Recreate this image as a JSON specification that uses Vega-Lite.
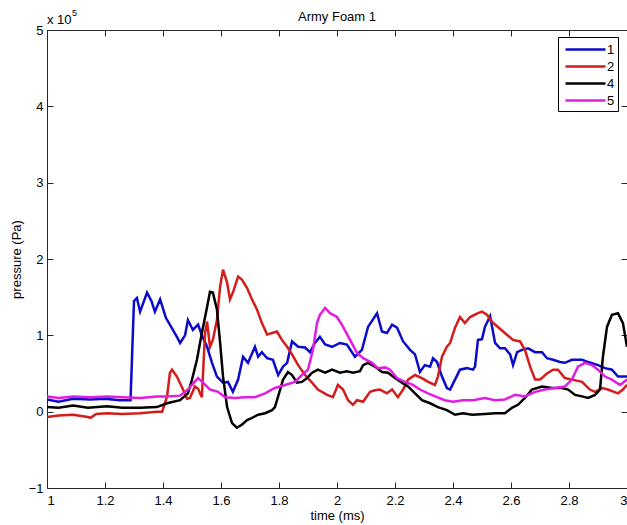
{
  "$schema": "https://vega.github.io/schema/vega-lite/v6.json",
  "width": 580,
  "height": 458,
  "autosize": {"type": "none"},
  "padding": {"left": 47, "top": 30, "right": 0, "bottom": 37},
  "config": {
    "font": "Liberation Sans",
    "view": {"stroke": null},
    "axis": {
      "domainColor": "#262626",
      "tickColor": "#262626",
      "labelColor": "#000",
      "titleColor": "#000",
      "labelFontSize": 13,
      "titleFontSize": 13,
      "titleFontWeight": "normal",
      "grid": false
    }
  },
  "data": {"values": [
    {"t":1.000,"p":0.16,"s":"1"},{"t":1.040,"p":0.13,"s":"1"},{"t":1.090,"p":0.17,"s":"1"},{"t":1.150,"p":0.16,"s":"1"},{"t":1.200,"p":0.17,"s":"1"},{"t":1.250,"p":0.15,"s":"1"},{"t":1.288,"p":0.15,"s":"1"},{"t":1.300,"p":1.45,"s":"1"},{"t":1.310,"p":1.49,"s":"1"},{"t":1.321,"p":1.31,"s":"1"},{"t":1.345,"p":1.56,"s":"1"},{"t":1.360,"p":1.45,"s":"1"},{"t":1.372,"p":1.31,"s":"1"},{"t":1.390,"p":1.47,"s":"1"},{"t":1.410,"p":1.23,"s":"1"},{"t":1.448,"p":0.98,"s":"1"},{"t":1.459,"p":0.90,"s":"1"},{"t":1.476,"p":1.00,"s":"1"},{"t":1.486,"p":1.20,"s":"1"},{"t":1.503,"p":1.07,"s":"1"},{"t":1.521,"p":1.14,"s":"1"},{"t":1.534,"p":1.00,"s":"1"},{"t":1.552,"p":0.85,"s":"1"},{"t":1.569,"p":0.64,"s":"1"},{"t":1.586,"p":0.46,"s":"1"},{"t":1.607,"p":0.38,"s":"1"},{"t":1.624,"p":0.39,"s":"1"},{"t":1.641,"p":0.26,"s":"1"},{"t":1.659,"p":0.42,"s":"1"},{"t":1.676,"p":0.72,"s":"1"},{"t":1.693,"p":0.64,"s":"1"},{"t":1.717,"p":0.85,"s":"1"},{"t":1.728,"p":0.72,"s":"1"},{"t":1.741,"p":0.78,"s":"1"},{"t":1.759,"p":0.70,"s":"1"},{"t":1.779,"p":0.68,"s":"1"},{"t":1.797,"p":0.48,"s":"1"},{"t":1.814,"p":0.59,"s":"1"},{"t":1.828,"p":0.64,"s":"1"},{"t":1.845,"p":0.92,"s":"1"},{"t":1.866,"p":0.85,"s":"1"},{"t":1.890,"p":0.84,"s":"1"},{"t":1.907,"p":0.78,"s":"1"},{"t":1.924,"p":0.90,"s":"1"},{"t":1.941,"p":0.98,"s":"1"},{"t":1.959,"p":0.88,"s":"1"},{"t":1.983,"p":0.85,"s":"1"},{"t":2.010,"p":0.90,"s":"1"},{"t":2.034,"p":0.88,"s":"1"},{"t":2.062,"p":0.72,"s":"1"},{"t":2.086,"p":0.81,"s":"1"},{"t":2.107,"p":1.11,"s":"1"},{"t":2.138,"p":1.29,"s":"1"},{"t":2.155,"p":1.05,"s":"1"},{"t":2.172,"p":1.03,"s":"1"},{"t":2.190,"p":1.14,"s":"1"},{"t":2.207,"p":1.10,"s":"1"},{"t":2.228,"p":0.92,"s":"1"},{"t":2.252,"p":0.81,"s":"1"},{"t":2.269,"p":0.75,"s":"1"},{"t":2.286,"p":0.52,"s":"1"},{"t":2.303,"p":0.61,"s":"1"},{"t":2.321,"p":0.59,"s":"1"},{"t":2.331,"p":0.70,"s":"1"},{"t":2.345,"p":0.65,"s":"1"},{"t":2.362,"p":0.46,"s":"1"},{"t":2.379,"p":0.31,"s":"1"},{"t":2.390,"p":0.29,"s":"1"},{"t":2.407,"p":0.42,"s":"1"},{"t":2.424,"p":0.55,"s":"1"},{"t":2.448,"p":0.57,"s":"1"},{"t":2.469,"p":0.55,"s":"1"},{"t":2.476,"p":0.59,"s":"1"},{"t":2.486,"p":0.94,"s":"1"},{"t":2.500,"p":0.95,"s":"1"},{"t":2.510,"p":1.11,"s":"1"},{"t":2.528,"p":1.25,"s":"1"},{"t":2.545,"p":0.90,"s":"1"},{"t":2.562,"p":0.83,"s":"1"},{"t":2.579,"p":0.83,"s":"1"},{"t":2.597,"p":0.75,"s":"1"},{"t":2.607,"p":0.61,"s":"1"},{"t":2.621,"p":0.78,"s":"1"},{"t":2.638,"p":0.81,"s":"1"},{"t":2.659,"p":0.83,"s":"1"},{"t":2.683,"p":0.78,"s":"1"},{"t":2.707,"p":0.78,"s":"1"},{"t":2.724,"p":0.70,"s":"1"},{"t":2.745,"p":0.68,"s":"1"},{"t":2.769,"p":0.65,"s":"1"},{"t":2.786,"p":0.64,"s":"1"},{"t":2.810,"p":0.68,"s":"1"},{"t":2.845,"p":0.68,"s":"1"},{"t":2.866,"p":0.65,"s":"1"},{"t":2.900,"p":0.61,"s":"1"},{"t":2.924,"p":0.57,"s":"1"},{"t":2.948,"p":0.55,"s":"1"},{"t":2.969,"p":0.46,"s":"1"},{"t":3.000,"p":0.46,"s":"1"},

    {"t":1.000,"p":-0.07,"s":"2"},{"t":1.040,"p":-0.05,"s":"2"},{"t":1.090,"p":-0.04,"s":"2"},{"t":1.141,"p":-0.07,"s":"2"},{"t":1.150,"p":-0.08,"s":"2"},{"t":1.170,"p":-0.03,"s":"2"},{"t":1.207,"p":-0.02,"s":"2"},{"t":1.260,"p":-0.03,"s":"2"},{"t":1.321,"p":-0.02,"s":"2"},{"t":1.380,"p":0.00,"s":"2"},{"t":1.397,"p":0.00,"s":"2"},{"t":1.414,"p":0.20,"s":"2"},{"t":1.424,"p":0.51,"s":"2"},{"t":1.431,"p":0.55,"s":"2"},{"t":1.448,"p":0.46,"s":"2"},{"t":1.469,"p":0.29,"s":"2"},{"t":1.483,"p":0.17,"s":"2"},{"t":1.493,"p":0.18,"s":"2"},{"t":1.510,"p":0.33,"s":"2"},{"t":1.521,"p":0.30,"s":"2"},{"t":1.534,"p":0.19,"s":"2"},{"t":1.545,"p":1.03,"s":"2"},{"t":1.552,"p":1.18,"s":"2"},{"t":1.562,"p":0.85,"s":"2"},{"t":1.572,"p":0.94,"s":"2"},{"t":1.586,"p":1.20,"s":"2"},{"t":1.597,"p":1.64,"s":"2"},{"t":1.607,"p":1.86,"s":"2"},{"t":1.621,"p":1.69,"s":"2"},{"t":1.631,"p":1.47,"s":"2"},{"t":1.641,"p":1.56,"s":"2"},{"t":1.659,"p":1.77,"s":"2"},{"t":1.672,"p":1.73,"s":"2"},{"t":1.690,"p":1.62,"s":"2"},{"t":1.707,"p":1.47,"s":"2"},{"t":1.724,"p":1.34,"s":"2"},{"t":1.741,"p":1.16,"s":"2"},{"t":1.759,"p":1.01,"s":"2"},{"t":1.776,"p":1.03,"s":"2"},{"t":1.793,"p":1.05,"s":"2"},{"t":1.810,"p":0.94,"s":"2"},{"t":1.828,"p":0.85,"s":"2"},{"t":1.845,"p":0.75,"s":"2"},{"t":1.866,"p":0.61,"s":"2"},{"t":1.890,"p":0.48,"s":"2"},{"t":1.914,"p":0.38,"s":"2"},{"t":1.934,"p":0.29,"s":"2"},{"t":1.966,"p":0.22,"s":"2"},{"t":1.986,"p":0.19,"s":"2"},{"t":2.003,"p":0.35,"s":"2"},{"t":2.021,"p":0.29,"s":"2"},{"t":2.038,"p":0.15,"s":"2"},{"t":2.055,"p":0.09,"s":"2"},{"t":2.069,"p":0.15,"s":"2"},{"t":2.090,"p":0.13,"s":"2"},{"t":2.114,"p":0.26,"s":"2"},{"t":2.131,"p":0.28,"s":"2"},{"t":2.148,"p":0.29,"s":"2"},{"t":2.172,"p":0.24,"s":"2"},{"t":2.190,"p":0.29,"s":"2"},{"t":2.210,"p":0.19,"s":"2"},{"t":2.228,"p":0.29,"s":"2"},{"t":2.245,"p":0.42,"s":"2"},{"t":2.269,"p":0.48,"s":"2"},{"t":2.293,"p":0.44,"s":"2"},{"t":2.314,"p":0.39,"s":"2"},{"t":2.338,"p":0.35,"s":"2"},{"t":2.348,"p":0.46,"s":"2"},{"t":2.362,"p":0.72,"s":"2"},{"t":2.379,"p":0.85,"s":"2"},{"t":2.390,"p":0.90,"s":"2"},{"t":2.407,"p":1.10,"s":"2"},{"t":2.424,"p":1.24,"s":"2"},{"t":2.441,"p":1.16,"s":"2"},{"t":2.459,"p":1.24,"s":"2"},{"t":2.486,"p":1.29,"s":"2"},{"t":2.500,"p":1.31,"s":"2"},{"t":2.517,"p":1.27,"s":"2"},{"t":2.534,"p":1.18,"s":"2"},{"t":2.555,"p":1.11,"s":"2"},{"t":2.579,"p":1.03,"s":"2"},{"t":2.607,"p":0.94,"s":"2"},{"t":2.631,"p":0.92,"s":"2"},{"t":2.648,"p":0.81,"s":"2"},{"t":2.666,"p":0.59,"s":"2"},{"t":2.683,"p":0.42,"s":"2"},{"t":2.700,"p":0.42,"s":"2"},{"t":2.724,"p":0.50,"s":"2"},{"t":2.745,"p":0.55,"s":"2"},{"t":2.762,"p":0.55,"s":"2"},{"t":2.786,"p":0.44,"s":"2"},{"t":2.810,"p":0.42,"s":"2"},{"t":2.845,"p":0.39,"s":"2"},{"t":2.872,"p":0.29,"s":"2"},{"t":2.890,"p":0.26,"s":"2"},{"t":2.914,"p":0.31,"s":"2"},{"t":2.934,"p":0.29,"s":"2"},{"t":2.969,"p":0.24,"s":"2"},{"t":2.986,"p":0.29,"s":"2"},{"t":3.000,"p":0.35,"s":"2"},

    {"t":1.000,"p":0.06,"s":"4"},{"t":1.040,"p":0.05,"s":"4"},{"t":1.090,"p":0.08,"s":"4"},{"t":1.141,"p":0.05,"s":"4"},{"t":1.207,"p":0.07,"s":"4"},{"t":1.260,"p":0.05,"s":"4"},{"t":1.321,"p":0.05,"s":"4"},{"t":1.379,"p":0.06,"s":"4"},{"t":1.414,"p":0.11,"s":"4"},{"t":1.459,"p":0.15,"s":"4"},{"t":1.486,"p":0.24,"s":"4"},{"t":1.500,"p":0.42,"s":"4"},{"t":1.517,"p":0.68,"s":"4"},{"t":1.534,"p":1.03,"s":"4"},{"t":1.552,"p":1.37,"s":"4"},{"t":1.562,"p":1.57,"s":"4"},{"t":1.572,"p":1.56,"s":"4"},{"t":1.586,"p":1.34,"s":"4"},{"t":1.597,"p":0.90,"s":"4"},{"t":1.607,"p":0.46,"s":"4"},{"t":1.621,"p":0.06,"s":"4"},{"t":1.638,"p":-0.15,"s":"4"},{"t":1.655,"p":-0.21,"s":"4"},{"t":1.672,"p":-0.17,"s":"4"},{"t":1.690,"p":-0.11,"s":"4"},{"t":1.707,"p":-0.08,"s":"4"},{"t":1.728,"p":-0.04,"s":"4"},{"t":1.752,"p":-0.02,"s":"4"},{"t":1.776,"p":0.02,"s":"4"},{"t":1.786,"p":0.06,"s":"4"},{"t":1.797,"p":0.20,"s":"4"},{"t":1.814,"p":0.42,"s":"4"},{"t":1.831,"p":0.52,"s":"4"},{"t":1.845,"p":0.48,"s":"4"},{"t":1.862,"p":0.38,"s":"4"},{"t":1.879,"p":0.39,"s":"4"},{"t":1.897,"p":0.44,"s":"4"},{"t":1.914,"p":0.51,"s":"4"},{"t":1.934,"p":0.55,"s":"4"},{"t":1.959,"p":0.51,"s":"4"},{"t":1.983,"p":0.55,"s":"4"},{"t":2.010,"p":0.51,"s":"4"},{"t":2.034,"p":0.53,"s":"4"},{"t":2.055,"p":0.51,"s":"4"},{"t":2.079,"p":0.53,"s":"4"},{"t":2.090,"p":0.61,"s":"4"},{"t":2.107,"p":0.64,"s":"4"},{"t":2.131,"p":0.59,"s":"4"},{"t":2.155,"p":0.52,"s":"4"},{"t":2.176,"p":0.51,"s":"4"},{"t":2.200,"p":0.44,"s":"4"},{"t":2.224,"p":0.38,"s":"4"},{"t":2.245,"p":0.33,"s":"4"},{"t":2.269,"p":0.24,"s":"4"},{"t":2.293,"p":0.15,"s":"4"},{"t":2.321,"p":0.11,"s":"4"},{"t":2.348,"p":0.06,"s":"4"},{"t":2.379,"p":0.02,"s":"4"},{"t":2.407,"p":-0.04,"s":"4"},{"t":2.434,"p":-0.02,"s":"4"},{"t":2.466,"p":-0.04,"s":"4"},{"t":2.510,"p":-0.03,"s":"4"},{"t":2.545,"p":-0.02,"s":"4"},{"t":2.579,"p":-0.02,"s":"4"},{"t":2.603,"p":0.05,"s":"4"},{"t":2.624,"p":0.09,"s":"4"},{"t":2.648,"p":0.18,"s":"4"},{"t":2.672,"p":0.29,"s":"4"},{"t":2.707,"p":0.33,"s":"4"},{"t":2.741,"p":0.31,"s":"4"},{"t":2.776,"p":0.31,"s":"4"},{"t":2.797,"p":0.29,"s":"4"},{"t":2.821,"p":0.22,"s":"4"},{"t":2.845,"p":0.20,"s":"4"},{"t":2.866,"p":0.18,"s":"4"},{"t":2.890,"p":0.22,"s":"4"},{"t":2.907,"p":0.29,"s":"4"},{"t":2.917,"p":0.72,"s":"4"},{"t":2.931,"p":1.11,"s":"4"},{"t":2.948,"p":1.27,"s":"4"},{"t":2.969,"p":1.29,"s":"4"},{"t":2.986,"p":1.16,"s":"4"},{"t":3.000,"p":0.85,"s":"4"},

    {"t":1.000,"p":0.20,"s":"5"},{"t":1.040,"p":0.18,"s":"5"},{"t":1.090,"p":0.20,"s":"5"},{"t":1.150,"p":0.19,"s":"5"},{"t":1.207,"p":0.20,"s":"5"},{"t":1.260,"p":0.19,"s":"5"},{"t":1.321,"p":0.18,"s":"5"},{"t":1.379,"p":0.20,"s":"5"},{"t":1.414,"p":0.20,"s":"5"},{"t":1.459,"p":0.21,"s":"5"},{"t":1.486,"p":0.29,"s":"5"},{"t":1.500,"p":0.35,"s":"5"},{"t":1.521,"p":0.44,"s":"5"},{"t":1.538,"p":0.38,"s":"5"},{"t":1.562,"p":0.29,"s":"5"},{"t":1.590,"p":0.26,"s":"5"},{"t":1.614,"p":0.19,"s":"5"},{"t":1.648,"p":0.18,"s":"5"},{"t":1.683,"p":0.19,"s":"5"},{"t":1.717,"p":0.19,"s":"5"},{"t":1.752,"p":0.24,"s":"5"},{"t":1.786,"p":0.31,"s":"5"},{"t":1.821,"p":0.35,"s":"5"},{"t":1.855,"p":0.39,"s":"5"},{"t":1.879,"p":0.48,"s":"5"},{"t":1.900,"p":0.55,"s":"5"},{"t":1.917,"p":0.81,"s":"5"},{"t":1.931,"p":1.16,"s":"5"},{"t":1.941,"p":1.27,"s":"5"},{"t":1.959,"p":1.36,"s":"5"},{"t":1.976,"p":1.29,"s":"5"},{"t":2.000,"p":1.24,"s":"5"},{"t":2.021,"p":1.11,"s":"5"},{"t":2.045,"p":0.94,"s":"5"},{"t":2.069,"p":0.77,"s":"5"},{"t":2.090,"p":0.70,"s":"5"},{"t":2.121,"p":0.64,"s":"5"},{"t":2.141,"p":0.57,"s":"5"},{"t":2.166,"p":0.58,"s":"5"},{"t":2.183,"p":0.55,"s":"5"},{"t":2.207,"p":0.44,"s":"5"},{"t":2.234,"p":0.39,"s":"5"},{"t":2.262,"p":0.35,"s":"5"},{"t":2.286,"p":0.29,"s":"5"},{"t":2.314,"p":0.24,"s":"5"},{"t":2.345,"p":0.19,"s":"5"},{"t":2.372,"p":0.15,"s":"5"},{"t":2.400,"p":0.13,"s":"5"},{"t":2.434,"p":0.15,"s":"5"},{"t":2.469,"p":0.15,"s":"5"},{"t":2.510,"p":0.18,"s":"5"},{"t":2.545,"p":0.15,"s":"5"},{"t":2.579,"p":0.16,"s":"5"},{"t":2.614,"p":0.22,"s":"5"},{"t":2.648,"p":0.20,"s":"5"},{"t":2.683,"p":0.26,"s":"5"},{"t":2.717,"p":0.29,"s":"5"},{"t":2.752,"p":0.31,"s":"5"},{"t":2.786,"p":0.33,"s":"5"},{"t":2.810,"p":0.42,"s":"5"},{"t":2.831,"p":0.59,"s":"5"},{"t":2.855,"p":0.64,"s":"5"},{"t":2.879,"p":0.61,"s":"5"},{"t":2.900,"p":0.55,"s":"5"},{"t":2.924,"p":0.46,"s":"5"},{"t":2.948,"p":0.42,"s":"5"},{"t":2.976,"p":0.35,"s":"5"},{"t":3.000,"p":0.42,"s":"5"}
  ]},
  "layer": [
    {
      "mark": {"type": "line", "strokeWidth": 2.5, "clip": true},
      "encoding": {
        "x": {"field": "t", "type": "quantitative", "scale": {"domain": [1, 3], "nice": false},
              "axis": {"orient": "bottom", "values": [1, 1.2, 1.4, 1.6, 1.8, 2, 2.2, 2.4, 2.6, 2.8, 3], "format": "~g", "title": "time (ms)", "tickSize": -6, "labelPadding": 12, "titlePadding": 2}},
        "y": {"field": "p", "type": "quantitative", "scale": {"domain": [-1, 5], "nice": false},
              "axis": {"orient": "left", "values": [-1, 0, 1, 2, 3, 4, 5], "title": "pressure (Pa)", "tickSize": -6, "labelPadding": 10, "titlePadding": 5}},
        "color": {"field": "s", "type": "nominal",
                  "scale": {"domain": ["1", "2", "4", "5"], "range": ["#0b0bcc", "#d41c1c", "#000000", "#e31ce3"]},
                  "legend": {"orient": "none", "legendX": 511, "legendY": 7, "title": null,
                             "strokeColor": "#000", "fillColor": "#fff", "padding": 3,
                             "symbolType": "M-2.5,0H2.5", "symbolSize": 256, "symbolStrokeWidth": 2.5,
                             "symbolOffset": 15, "labelOffset": 12, "labelFontSize": 13, "labelColor": "#000", "rowPadding": 0}}
      }
    },
    {
      "data": {"values": [{"label": "x 10"}]},
      "mark": {"type": "text", "align": "left", "baseline": "alphabetic", "dy": -6, "fontSize": 13, "color": "#000"},
      "encoding": {
        "text": {"field": "label"},
        "x": {"datum": 1, "type": "quantitative", "axis": {"orient": "top", "values": [1, 1.2, 1.4, 1.6, 1.8, 2, 2.2, 2.4, 2.6, 2.8, 3], "labels": false, "title": null, "tickSize": -6}},
        "y": {"datum": 5, "type": "quantitative", "axis": {"orient": "right", "values": [-1, 0, 1, 2, 3, 4, 5], "labels": false, "title": null, "tickSize": -6}}
      }
    },
    {
      "data": {"values": [{"label": "5"}]},
      "mark": {"type": "text", "align": "left", "baseline": "alphabetic", "dx": 25, "dy": -14, "fontSize": 9, "color": "#000"},
      "encoding": {
        "text": {"field": "label"},
        "x": {"datum": 1, "type": "quantitative", "axis": null},
        "y": {"datum": 5, "type": "quantitative", "axis": null}
      }
    },
    {
      "data": {"values": [{"label": "Army Foam 1"}]},
      "mark": {"type": "text", "align": "center", "baseline": "alphabetic", "dy": -9, "fontSize": 13, "color": "#000"},
      "encoding": {
        "text": {"field": "label"},
        "x": {"datum": 2, "type": "quantitative", "axis": null},
        "y": {"datum": 5, "type": "quantitative", "axis": null}
      }
    }
  ],
  "resolve": {"axis": {"x": "independent", "y": "independent"}}
}
